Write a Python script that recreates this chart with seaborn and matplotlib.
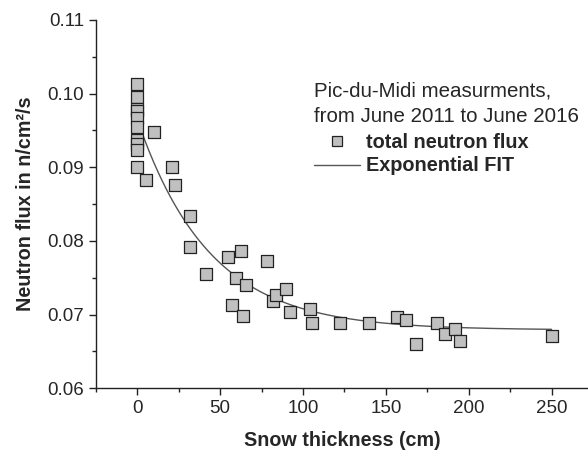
import seaborn as sns
import matplotlib.pyplot as plt
import numpy as np
import pandas as pd
from matplotlib.ticker import MultipleLocator
from matplotlib.lines import Line2D

# Pic-du-Midi: flux de neutrons vs épaisseur de neige
snow_cm = [0, 0, 0, 0, 0, 0, 0, 0, 0, 0,
           5, 10, 21, 23, 32, 32, 41.5, 55, 57, 59.5, 62.5, 64, 65.5,
           78, 82, 84, 90, 92, 104, 105.5, 122.5, 140, 156.5, 162,
           168.5, 181, 185.5, 192, 195, 250.5]
flux = [0.1013, 0.0995, 0.0979, 0.0976, 0.0967, 0.0954, 0.0937, 0.0932, 0.0923, 0.0900,
        0.0883, 0.0948, 0.0901, 0.0876, 0.0834, 0.0792, 0.0755, 0.0778, 0.0713, 0.0749, 0.0786, 0.0698, 0.0740,
        0.0773, 0.0719, 0.0726, 0.0735, 0.0704, 0.0708, 0.0689, 0.0689, 0.0688, 0.0696, 0.0693,
        0.0660, 0.0689, 0.0673, 0.0681, 0.0664, 0.0671]

# paramètres du fit exponentiel y = y0 + A*exp(-x/t)
fit_y0, fit_A, fit_t = 0.0679, 0.0286, 43.6
fit_x = np.linspace(0, 250, 200)
fit_y = fit_y0 + fit_A * np.exp(-fit_x / fit_t)

data = pd.DataFrame({"snow": snow_cm, "flux": flux})
fit = pd.DataFrame({"snow": fit_x, "flux": fit_y})

sns.set_style("ticks")
plt.rcParams["font.family"] = ["Liberation Sans", "DejaVu Sans"]

fig = plt.figure(figsize=(5.88, 4.54), dpi=100)
ax = fig.add_axes([0.163, 0.145, 0.837, 0.811])

sns.lineplot(data=fit, x="snow", y="flux", color="#555555", lw=1, ax=ax)
sns.scatterplot(data=data, x="snow", y="flux", marker="s", s=75,
                color="#c0c0c0", edgecolor="#222222", linewidth=0.9,
                ax=ax, zorder=3)

ax.set_xlim(-25, 272)
ax.set_ylim(0.06, 0.11)
ax.xaxis.set_major_locator(MultipleLocator(50))
ax.xaxis.set_minor_locator(MultipleLocator(25))
ax.yaxis.set_major_locator(MultipleLocator(0.01))
ax.yaxis.set_minor_locator(MultipleLocator(0.005))
ax.yaxis.set_major_formatter(plt.FormatStrFormatter("%.2f"))
ax.tick_params(which="major", length=5, width=1, labelsize=13.5, color="#222222")
ax.tick_params(which="minor", length=3, width=1, color="#222222")
for s in ["left", "bottom"]:
    ax.spines[s].set_linewidth(1)
    ax.spines[s].set_color("#222222")
sns.despine(ax=ax)

ax.set_xlabel("Snow thickness (cm)", fontsize=14.2, fontweight="bold", labelpad=10)
ax.set_ylabel("Neutron flux in n/cm²/s", fontsize=14.2, fontweight="bold", labelpad=9)

ax.text(0.443, 0.807, "Pic-du-Midi measurments,", transform=ax.transAxes,
        fontsize=14.8, va="center", ha="left")
ax.text(0.443, 0.739, "from June 2011 to June 2016", transform=ax.transAxes,
        fontsize=14.8, va="center", ha="left")
handles = [Line2D([], [], marker="s", ls="none", markersize=7, markerfacecolor="#c0c0c0",
                  markeredgecolor="#222222", markeredgewidth=0.9),
           Line2D([], [], color="#555555", lw=1)]
leg = ax.legend(handles, ["total neutron flux", "Exponential FIT"], loc="center left",
                bbox_to_anchor=(0.443, 0.636), frameon=False, prop={"size": 14.3, "weight": "bold"},
                handlelength=2.3, handletextpad=0.3, borderpad=0, borderaxespad=0, labelspacing=0.25)

fig.savefig("out.png", dpi=100)
